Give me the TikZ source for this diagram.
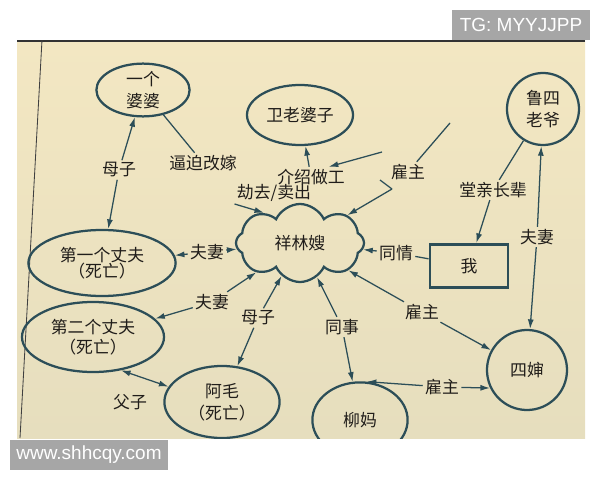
\documentclass[tikz,border=0pt]{standalone}
\usepackage{fontspec}
\newfontfamily\cjk{Noto Sans CJK SC}
\newfontfamily\wmfont{Liberation Sans}
\usetikzlibrary{shapes.geometric,shapes.symbols,arrows.meta}
\definecolor{paper}{RGB}{243,231,194}
\definecolor{paperdark}{RGB}{230,222,190}
\definecolor{inkline}{RGB}{44,78,88}
\definecolor{inktext}{RGB}{32,29,26}
\definecolor{wmgray}{RGB}{166,166,166}
\newcommand{\rimwidth}{1.6pt}
\newcommand{\linkwidth}{0.9pt}
\tikzset{
  person/.style={ellipse,draw=inkline,line width=\rimwidth,inner sep=0pt,align=center,text=inktext,font=\cjk\fontsize{12}{15.5}\selectfont},
  rel/.style={inner sep=1.5pt,text=inktext,font=\cjk\fontsize{12}{14}\selectfont},
  link/.style={draw=inkline,line width=\linkwidth},
  arr/.style={link,-{Latex[length=2.4mm,width=1.5mm]}},
  twoarr/.style={link,{Latex[length=2.4mm,width=1.5mm]}-{Latex[length=2.4mm,width=1.5mm]}},
  wmark/.style={fill=wmgray,text=white,font=\wmfont\fontsize{13.5}{16}\selectfont,inner sep=0pt}
}
\begin{document}
\begin{tikzpicture}[x=0.025cm,y=-0.025cm]
\useasboundingbox (0,0) rectangle (600,480);
\begin{scope}
\clip (17,40) rectangle (585,438);
\shade[top color=paper,bottom color=paperdark] (17,40) rectangle (585,438);
\draw[black!80,line width=1pt] (17,41) -- (585,41);
\draw[black!75,line width=0.6pt] (42,40) -- (20,438);
%people
\node[person,minimum width=2.33cm,minimum height=1.25cm] (popo) at (143,90) {一个\\婆婆};
\node[person,minimum width=2.65cm,minimum height=1.5cm] (wei) at (300,115) {卫老婆子};
\node[person,circle,minimum size=1.8cm] (lu) at (543,109) {鲁四\\老爷};
\node[cloud,draw=inkline,line width=\rimwidth,cloud puffs=8,cloud puff arc=130,aspect=1.7,minimum width=3.2cm,minimum height=1.95cm,inner sep=0pt,text=inktext,font=\cjk\fontsize{12}{14}\selectfont] (xls) at (300,243) {祥林嫂};
\node[draw=inkline,line width=2pt,minimum width=1.95cm,minimum height=1.08cm,text=inktext,font=\cjk\fontsize{12}{14}\selectfont] (wo) at (469,266) {我};
\node[person,minimum width=3.68cm,minimum height=1.65cm] (zf1) at (102,263) {第一个丈夫\\[-4pt]（死亡）};
\node[person,minimum width=3.55cm,minimum height=1.75cm] (zf2) at (93,337) {第二个丈夫\\[-1pt]（死亡）};
\node[person,minimum width=2.88cm,minimum height=1.8cm] (amao) at (222,402) {阿毛\\（死亡）};
\node[person,minimum width=2.38cm,minimum height=1.88cm] (liuma) at (360,420) {柳妈};
\node[person,circle,minimum size=2cm] (sishen) at (527,370) {四婶};
%relations
\node[rel] (muzi) at (119,170) {母子};
\node[rel] (bipo) at (203,163) {逼迫改嫁};
\node[rel] (jieshao) at (311,177) {介绍做工};
\node[rel] (maichu) at (274,193) {劫去/卖出};
\node[rel] (guzhuA) at (408,172) {雇主};
\node[rel] (tangqin) at (493,190) {堂亲长辈};
\node[rel] (fuqiA) at (537,237) {夫妻};
\node[rel] (tongqing) at (396,253) {同情};
\node[rel] (fuqiB) at (207,252) {夫妻};
\node[rel] (fuqiC) at (212,302) {夫妻};
\node[rel] (muziB) at (258,318) {母子};
\node[rel] (tongshi) at (342,327) {同事};
\node[rel] (guzhuB) at (422,312) {雇主};
\node[rel] (fuzi) at (130,402) {父子};
\node[rel] (guzhuC) at (442,387) {雇主};
\coordinate (fromright) at (382,152);
\coordinate (fromlu) at (450,123);
\coordinate (forkA) at (380,180);
\coordinate (forkB) at (392,189);
%links
\draw[arr] (muzi) -- (popo);
\draw[arr] (muzi) -- (zf1);
\draw[link] (popo) -- (bipo);
\draw[arr] (jieshao) -- (wei);
\draw[arr] (maichu.south west) -- (xls.140);
\draw[arr] (fromright) -- (jieshao.30);
\draw[link] (fromlu) -- (guzhuA);
\draw[link] (forkA) -- (forkB);
\draw[arr] (forkB) -- (xls);
\draw[link] (lu) -- (tangqin);
\draw[arr] (tangqin) -- (wo);
\draw[arr] (fuqiA) -- (lu);
\draw[arr] (fuqiA) -- (sishen);
\draw[link] (wo) -- (tongqing);
\draw[arr] (tongqing) -- (xls);
\draw[arr] (fuqiB) -- (xls);
\draw[arr] (fuqiB) -- (zf1);
\draw[arr] (fuqiC) -- (xls);
\draw[arr] (fuqiC) -- (zf2);
\draw[arr] (muziB) -- (xls);
\draw[arr] (muziB) -- (amao);
\draw[arr] (tongshi) -- (xls);
\draw[arr] (tongshi) -- (liuma);
\draw[arr] (guzhuB) -- (xls);
\draw[arr] (guzhuB) -- (sishen);
\draw[twoarr] (zf2.310) -- (amao.164);
\draw[arr] (guzhuC) -- (sishen.206);
\draw[arr] (guzhuC) -- (liuma.80);
\end{scope}
%watermarks
\node[wmark,minimum width=3.45cm,minimum height=0.75cm] (tg) at (521,25) {TG: MYYJJPP};
\node[wmark,minimum width=3.95cm,minimum height=0.75cm] (site) at (89,455) {www.shhcqy.com};
\end{tikzpicture}
\end{document}
